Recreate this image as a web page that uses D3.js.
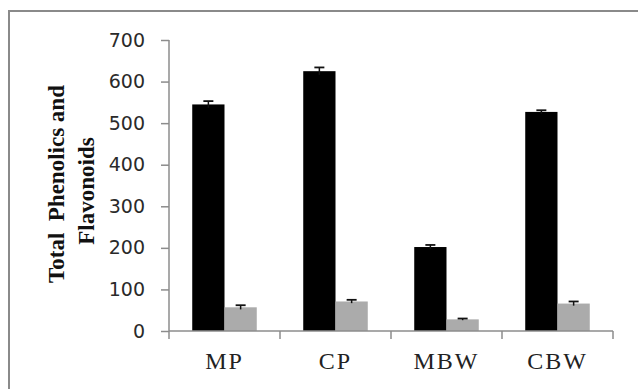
<!DOCTYPE html>
<html>
<head>
<meta charset="utf-8">
<script src="https://cdn.jsdelivr.net/npm/d3@7"></script>
<style>
  html, body { margin: 0; padding: 0; background: #fff; }
  svg { display: block; }
</style>
</head>
<body>
<svg id="chart" width="638" height="389"></svg>
<script>
const categories = ["MP", "CP", "MBW", "CBW"];
const seriesNames = ["Total Phenolics", "Flavonoids"];
const phenolics = [545, 625, 202, 527];
const phenolicsErr = [8, 9, 5, 4];
const flavonoids = [57, 71, 28, 66];
const flavonoidsErr = [5, 4, 2, 5];
const yTicks = [0, 100, 200, 300, 400, 500, 600, 700];
const yTitleLines = ["Total  Phenolics and", "Flavonoids"];

(function () {
const svg = d3.select("#chart");
const colors = ["#000000", "#ababab"];

// outer frame
svg.append("rect")
  .attr("x", 9).attr("y", 11)
  .attr("width", 640).attr("height", 400)
  .attr("fill", "none").attr("stroke", "#8a8a8a").attr("stroke-width", 2);

const pLeft = 169, pRight = 613, pTop = 40, pBottom = 331;

const x0 = d3.scaleBand().domain(categories).range([pLeft, pRight]).paddingInner(0).paddingOuter(0);
const x1 = d3.scaleBand().domain([0, 1]).range([0, x0.bandwidth()]).paddingInner(0).paddingOuter(0.72);
const y = d3.scaleLinear().domain([0, 700]).range([pBottom, pTop]);

const data = categories.map((c, i) => ({
  cat: c,
  vals: [
    { s: 0, v: phenolics[i], e: phenolicsErr[i] },
    { s: 1, v: flavonoids[i], e: flavonoidsErr[i] }
  ]
}));

const axisColor = "#8c8c8c";

// bars
const g = svg.append("g");
const groups = g.selectAll("g.cat").data(data).join("g")
  .attr("class", "cat")
  .attr("transform", d => `translate(${x0(d.cat)},0)`);

groups.selectAll("rect").data(d => d.vals).join("rect")
  .attr("x", d => x1(d.s))
  .attr("y", d => y(d.v))
  .attr("width", x1.bandwidth())
  .attr("height", d => y(0) - y(d.v))
  .attr("fill", d => colors[d.s]);

// error bars
const cap = 5;
groups.selectAll("g.err").data(d => d.vals).join("g").attr("class", "err")
  .each(function(d) {
    const cx = x1(d.s) + x1.bandwidth() / 2;
    const sel = d3.select(this);
    sel.append("line")
      .attr("x1", cx).attr("x2", cx)
      .attr("y1", y(d.v - d.e)).attr("y2", y(d.v + d.e))
      .attr("stroke", "#111").attr("stroke-width", 1.5);
    sel.append("line")
      .attr("x1", cx - cap).attr("x2", cx + cap)
      .attr("y1", y(d.v + d.e)).attr("y2", y(d.v + d.e))
      .attr("stroke", "#111").attr("stroke-width", 1.8);
  });

// y axis
const yAxis = d3.axisLeft(y).tickValues(yTicks).tickSize(8).tickPadding(16).tickFormat(d3.format("d"));
const gy = svg.append("g").attr("transform", `translate(${pLeft},0)`).call(yAxis);
gy.select(".domain").remove();
gy.append("line").attr("x1", 0).attr("x2", 0).attr("y1", pTop).attr("y2", pBottom + 8)
  .attr("stroke", axisColor).attr("stroke-width", 1.5);
gy.selectAll(".tick line").attr("stroke", axisColor).attr("stroke-width", 1.5);
gy.selectAll(".tick text")
  .attr("font-family", "DejaVu Sans, sans-serif")
  .attr("font-size", 19)
  .attr("fill", "#2a2a2a");

// x axis line and boundary ticks
svg.append("line")
  .attr("x1", pLeft).attr("x2", pRight).attr("y1", pBottom).attr("y2", pBottom)
  .attr("stroke", axisColor).attr("stroke-width", 1.5);
const boundaries = categories.map(c => x0(c)).concat([x0(categories[categories.length - 1]) + x0.bandwidth()]);
svg.selectAll("line.xt").data(boundaries.slice(1)).join("line")
  .attr("class", "xt")
  .attr("x1", d => d).attr("x2", d => d)
  .attr("y1", pBottom).attr("y2", pBottom + 8)
  .attr("stroke", axisColor).attr("stroke-width", 1.5);

// x labels
svg.selectAll("text.xl").data(categories).join("text")
  .attr("class", "xl")
  .attr("x", d => x0(d) + x0.bandwidth() / 2)
  .attr("y", 369)
  .attr("text-anchor", "middle")
  .attr("font-family", "Liberation Serif, Times New Roman, serif")
  .attr("font-size", 24)
  .attr("letter-spacing", 2)
  .attr("fill", "#222")
  .text(d => d);

// y title
yTitleLines.forEach((t, i) => {
  svg.append("text")
    .attr("transform", `translate(${[64, 94][i]},${[184, 191][i]}) rotate(-90)`)
    .attr("font-family", "Liberation Serif, Times New Roman, serif")
    .attr("font-weight", "bold")
    .attr("font-size", 23)
    .attr("fill", "#111")
    .attr("text-anchor", "middle")
    .style("white-space", "pre")
    .text(t);
});
})();
</script>
</body>
</html>
